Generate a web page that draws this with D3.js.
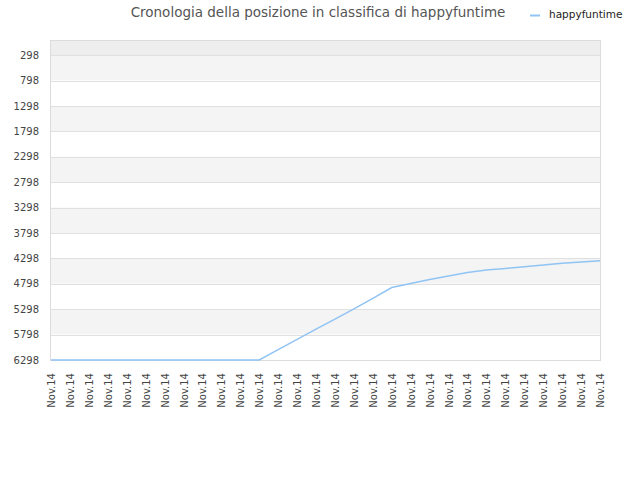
<!DOCTYPE html>
<html>
<head>
<meta charset="utf-8">
<script src="https://cdn.jsdelivr.net/npm/d3@7"></script>
<style>
  body { margin: 0; background: #fff; }
  svg text { font-family: "DejaVu Sans", sans-serif; }
</style>
</head>
<body>
<svg id="chart" width="640" height="480"></svg>
<script>
const WIDTH = 640
const HEIGHT = 480
const MARGIN = {left: 51, right: 40, top: 40, bottom: 120}

const labels = d3.range(30).map(() => "Nov.14")
const ranks = [6298, 6298, 6298, 6298, 6298, 6298, 6298, 6298, 6298, 6298,
  6298, 6298, 6095, 5893, 5692, 5492, 5292, 5085, 4872, 4793,
  4714, 4645, 4576, 4527, 4498, 4462, 4429, 4395, 4370, 4344]
const yTicks = [298, 798, 1298, 1798, 2298, 2798, 3298, 3798, 4298, 4798, 5298, 5798, 6298]
const seriesName = "happyfuntime"
const title = "Cronologia della posizione in classifica di happyfuntime"

let svg = d3.select("#chart")

let xScale = d3.scalePoint()
  .domain(d3.range(labels.length))
  .range([MARGIN.left, WIDTH - MARGIN.right])

let yScale = d3.scaleLinear()
  .domain([0, 6298])
  .range([MARGIN.top, HEIGHT - MARGIN.bottom])

// background bands
let bandEdges = [0].concat(yTicks)
svg.append("g")
  .selectAll("rect")
  .data(d3.pairs(bandEdges))
  .join("rect")
  .attr("x", MARGIN.left)
  .attr("width", WIDTH - MARGIN.right - MARGIN.left)
  .attr("y", d => yScale(d[0]))
  .attr("height", d => yScale(d[1]) - yScale(d[0]))
  .attr("fill", (d, i) => i == 0 ? "#eeeeee" : (i % 2 == 1 ? "#f4f4f4" : "#ffffff"))

// grid lines
svg.append("g")
  .selectAll("line")
  .data(yTicks)
  .join("line")
  .attr("x1", MARGIN.left)
  .attr("x2", WIDTH - MARGIN.right)
  .attr("y1", d => Math.round(yScale(d)) + 0.5)
  .attr("y2", d => Math.round(yScale(d)) + 0.5)
  .attr("stroke", "#e0e0e0")

// plot border
svg.append("rect")
  .attr("x", MARGIN.left - 0.5)
  .attr("y", MARGIN.top + 0.5)
  .attr("width", WIDTH - MARGIN.right - MARGIN.left + 1)
  .attr("height", HEIGHT - MARGIN.bottom - MARGIN.top)
  .attr("fill", "none")
  .attr("stroke", "#dcdcdc")

// y axis labels
let yAxis = svg.append("g")
  .attr("transform", `translate(${MARGIN.left}, 0)`)
  .call(d3.axisLeft(yScale).tickValues(yTicks).tickFormat(d3.format("d")).tickSize(0).tickPadding(12))
yAxis.select(".domain").remove()
yAxis.selectAll("text")
  .attr("font-size", 10)
  .attr("font-family", "DejaVu Sans")
  .attr("fill", "#444")

// x axis labels
let xAxis = svg.append("g")
  .attr("transform", `translate(0, ${HEIGHT - MARGIN.bottom})`)
  .call(d3.axisBottom(xScale).tickFormat(i => labels[i]).tickSize(0))
xAxis.select(".domain").remove()
xAxis.selectAll("text")
  .attr("font-size", 10)
  .attr("font-family", "DejaVu Sans")
  .attr("fill", "#444")
  .attr("text-anchor", "end")
  .attr("dy", "0.35em")
  .attr("transform", "translate(0, 13) rotate(-90)")
  .attr("x", 0)
  .attr("y", 0)

// line
svg.append("path")
  .datum(ranks)
  .attr("fill", "none")
  .attr("stroke", "#90c4f4")
  .attr("stroke-width", 1.5)
  .attr("d", d3.line()
    .x((d, i) => xScale(i))
    .y(d => yScale(d)))

// title
svg.append("text")
  .attr("x", 318)
  .attr("y", 17)
  .attr("text-anchor", "middle")
  .attr("font-size", 13.5)
  .attr("fill", "#555")
  .text(title)

// legend
svg.append("line")
  .attr("x1", 530).attr("x2", 540)
  .attr("y1", 15.5).attr("y2", 15.5)
  .attr("stroke", "#90c4f4")
  .attr("stroke-width", 2)
svg.append("text")
  .attr("x", 549)
  .attr("y", 18)
  .attr("font-size", 10.5)
  .attr("fill", "#222")
  .text(seriesName)
</script>
</body>
</html>
